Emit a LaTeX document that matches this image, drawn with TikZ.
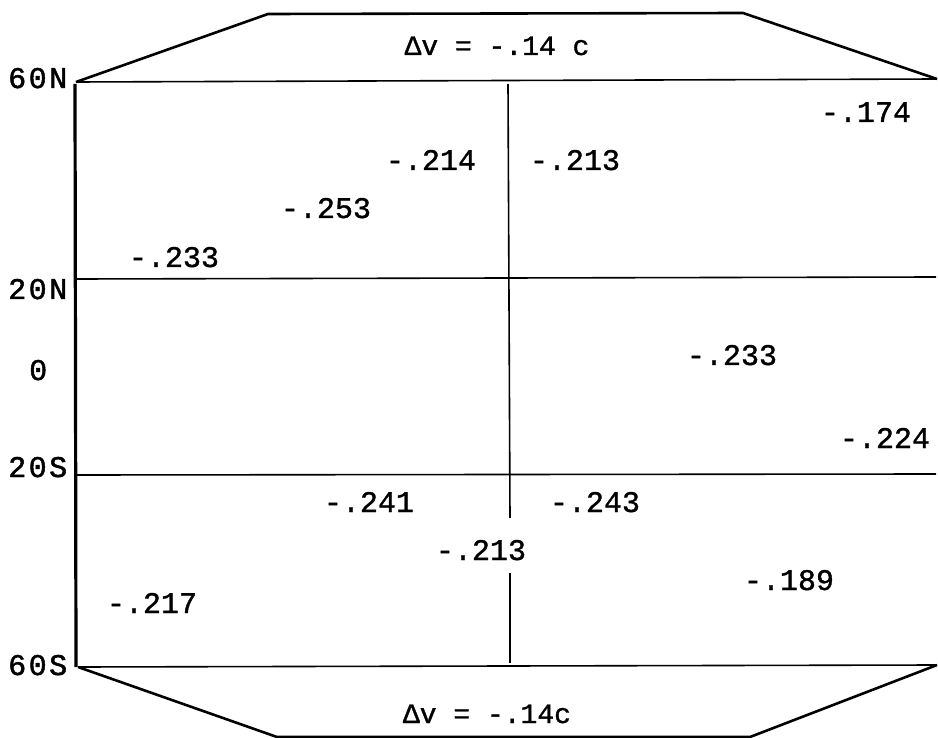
\documentclass[tikz,border=0pt]{standalone}
\usepackage{fontspec}
\setmonofont{Liberation Mono}
\newfontfamily\valfont[FakeBold=1.2]{Liberation Mono}
\newfontfamily\latfont[FakeBold=1.6]{Liberation Mono}
\newcommand{\spc}{\kern2.5pt}
\begin{document}
\begin{tikzpicture}[x=1pt,y=-1pt,
  thin line/.style={line width=1.6pt},
  thick line/.style={line width=3.2pt},
  edge line/.style={line width=2.6pt, line join=round},
  val/.style={font=\valfont\fontsize{30}{30}\selectfont, inner sep=0pt, anchor=base},
  dv/.style={font=\valfont\fontsize{28}{28}\selectfont, inner sep=0pt, anchor=base},
  lat/.style={font=\latfont\fontsize{30}{30}\selectfont, inner sep=0pt, anchor=base west}]
\useasboundingbox (0,0) rectangle (938,738);
% grid
\coordinate (nl) at (76,82);  \coordinate (nr) at (937,79);
\coordinate (al) at (77,279); \coordinate (ar) at (936,277);
\coordinate (bl) at (77,475); \coordinate (br) at (936,474);
\coordinate (sl) at (78,667); \coordinate (sr) at (937,665);
\draw[thin line] (nl) -- (nr);
\draw[thin line] (al) -- (ar);
\draw[thin line] (bl) -- (br);
\draw[thin line] (sl) -- (sr);
\draw[thick line] (75,84) -- (76,667);
\draw[thin line] (508,84) -- (510,518);
\draw[thin line] (510,573) -- (510,663);
% outer polygons
\coordinate (tl) at (268,14); \coordinate (tr) at (743,13);
\coordinate (ul) at (277,737); \coordinate (ur) at (750,737);
\draw[edge line] (nl) -- (tl) -- (tr) -- (nr);
\draw[edge line] (sl) -- (ul) -- (ur) -- (sr);
% latitude labels
\node[lat] (l60n) at (8,88) {6\spc0\spc N};
\node[lat] (l20n) at (8,299) {2\spc0\spc N};
\node[lat] (l0)   at (29,380) {0};
\node[lat] (l20s) at (8,477) {2\spc0\spc S};
\node[lat] (l60s) at (8,675) {6\spc0\spc S};
% values
\node[dv] (dvt) at (497,55) {Δv = -.14 c};
\node[val] (v1) at (866,122) {-.174};
\node[val] (v2) at (431,170) {-.214};
\node[val] (v3) at (575,170) {-.213};
\node[val] (v4) at (326,218) {-.253};
\node[val] (v5) at (174,267) {-.233};
\node[val] (v6) at (732,365) {-.233};
\node[val] (v7) at (885,448) {-.224};
\node[val] (v8) at (369,512) {-.241};
\node[val] (v9) at (595,512) {-.243};
\node[val] (v10) at (481,560) {-.213};
\node[val] (v11) at (789,590) {-.189};
\node[val] (v12) at (152,613) {-.217};
\node[dv] (dvb) at (487,723) {Δv = -.14c};
\end{tikzpicture}
\end{document}
